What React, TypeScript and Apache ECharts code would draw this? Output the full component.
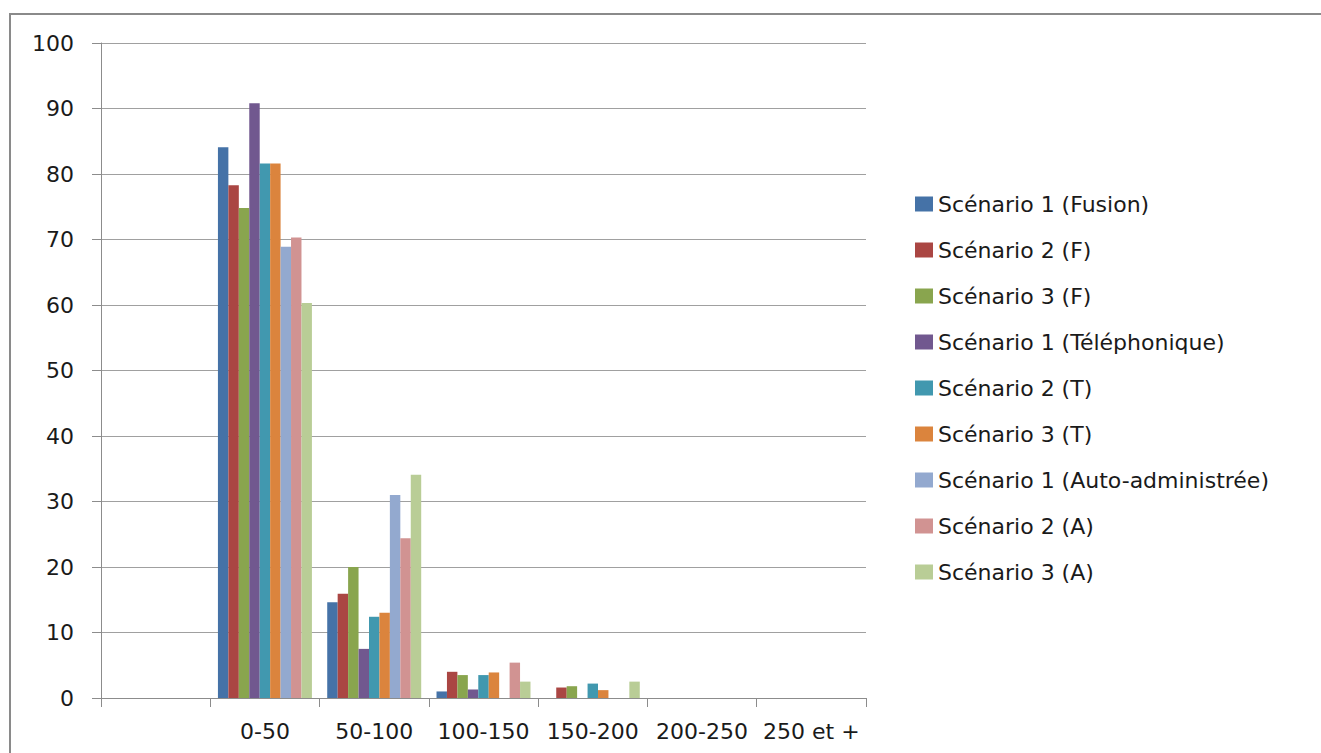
import React, { useEffect, useRef } from "react";
import * as echarts from "echarts";

const categories = ["", "0-50", "50-100", "100-150", "150-200", "200-250", "250 et +"];
const seriesNames = [
  "Scénario 1 (Fusion)",
  "Scénario 2 (F)",
  "Scénario 3 (F)",
  "Scénario 1 (Téléphonique)",
  "Scénario 2 (T)",
  "Scénario 3 (T)",
  "Scénario 1 (Auto-administrée)",
  "Scénario 2 (A)",
  "Scénario 3 (A)",
];
const s1Fusion = [null, 84.1, 14.6, 1.0, 0, 0, 0];
const s2F = [null, 78.3, 15.9, 4.0, 1.6, 0, 0];
const s3F = [null, 74.8, 20.0, 3.5, 1.8, 0, 0];
const s1Tel = [null, 90.8, 7.5, 1.3, 0, 0, 0];
const s2T = [null, 81.6, 12.4, 3.5, 2.2, 0, 0];
const s3T = [null, 81.6, 13.0, 3.9, 1.2, 0, 0];
const s1Auto = [null, 68.9, 31.0, 0, 0, 0, 0];
const s2A = [null, 70.3, 24.4, 5.4, 0, 0, 0];
const s3A = [null, 60.3, 34.1, 2.5, 2.5, 0, 0];
const seriesData = [s1Fusion, s2F, s3F, s1Tel, s2T, s3T, s1Auto, s2A, s3A];
const colors = ["#4572A7", "#AA4643", "#89A54E", "#71588F", "#4198AF", "#DB843D", "#93A9CF", "#D19392", "#B9CD96"];
const yTicks = { min: 0, max: 100, interval: 10 };

const FONT = "DejaVu Sans";

export default function App() {
  const ref = useRef<HTMLDivElement>(null);
  useEffect(() => {
    const chart = echarts.init(ref.current!, null, { renderer: "svg" });
    chart.setOption({
      animation: false,
      backgroundColor: "#ffffff",
      color: colors,
      graphic: [
        {
          type: "rect",
          shape: { x: 10, y: 14, width: 1330, height: 760 },
          style: { fill: "none", stroke: "#8a8a8a", lineWidth: 2 },
          silent: true,
          z: -1,
        },
      ],
      grid: { left: 101, top: 43, width: 765, height: 655 },
      legend: {
        orient: "vertical",
        left: 915,
        top: 193,
        padding: 0,
        itemWidth: 18,
        itemHeight: 15,
        itemGap: 24,
        icon: "rect",
        textStyle: { fontFamily: FONT, fontSize: 22, color: "#1a1a1a", lineHeight: 22 },
        data: seriesNames,
      },
      xAxis: {
        type: "category",
        data: categories,
        boundaryGap: true,
        axisLine: { lineStyle: { color: "#8c8c8c", width: 1 } },
        axisTick: { show: true, length: 9, interval: 0, lineStyle: { color: "#8c8c8c" } },
        axisLabel: { interval: 0, margin: 22, fontFamily: FONT, fontSize: 22, color: "#1a1a1a" },
      },
      yAxis: {
        type: "value",
        min: yTicks.min,
        max: yTicks.max,
        interval: yTicks.interval,
        axisLine: { show: true, lineStyle: { color: "#8c8c8c", width: 1 } },
        axisTick: { show: true, length: 9, lineStyle: { color: "#8c8c8c" } },
        splitLine: { lineStyle: { color: "#a0a0a0", width: 1 } },
        axisLabel: { margin: 27, fontFamily: FONT, fontSize: 22, color: "#1a1a1a" },
      },
      series: seriesNames.map((name, i) => ({
        name,
        type: "bar",
        data: seriesData[i],
        barGap: "0%",
        barCategoryGap: "14%",
        itemStyle: { color: colors[i] },
      })),
    });
    return () => chart.dispose();
  }, []);
  return (
    <div
      ref={ref}
      style={{ position: "fixed", left: 0, top: 0, width: 1321, height: 753, background: "#fff" }}
    />
  );
}
